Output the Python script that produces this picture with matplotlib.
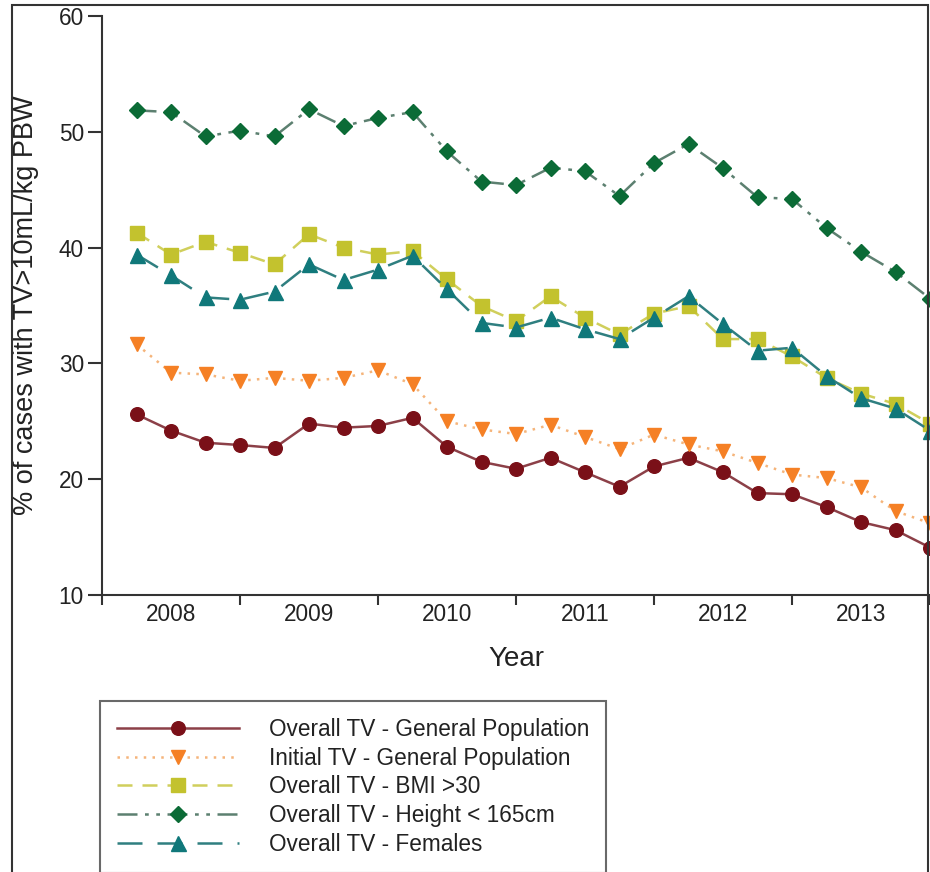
import matplotlib
matplotlib.use("Agg")
import matplotlib.pyplot as plt
from matplotlib.patches import Rectangle

plt.rcParams['font.family'] = ['Liberation Sans', 'DejaVu Sans']

# quarter-end positions, 2008 Q1 .. 2013 Q4
quarter_end = [2008.25, 2008.5, 2008.75, 2009.0,
               2009.25, 2009.5, 2009.75, 2010.0,
               2010.25, 2010.5, 2010.75, 2011.0,
               2011.25, 2011.5, 2011.75, 2012.0,
               2012.25, 2012.5, 2012.75, 2013.0,
               2013.25, 2013.5, 2013.75, 2014.0]
years = [2008, 2009, 2010, 2011, 2012, 2013]

overall_general = [25.6, 24.2, 23.15, 22.95, 22.7, 24.8, 24.45, 24.6,
                   25.3, 22.8, 21.5, 20.9, 21.85, 20.6, 19.35, 21.1,
                   21.85, 20.6, 18.8, 18.7, 17.6, 16.3, 15.6, 14.1]
initial_general = [31.65, 29.2, 29.05, 28.5, 28.75, 28.5, 28.75, 29.4,
                   28.2, 25.0, 24.3, 23.9, 24.7, 23.65, 22.6, 23.85,
                   23.0, 22.4, 21.4, 20.4, 20.1, 19.3, 17.25, 16.2]
overall_bmi = [41.3, 39.4, 40.5, 39.55, 38.55, 41.15, 40.0, 39.4,
               39.7, 37.25, 34.95, 33.65, 35.8, 33.95, 32.5, 34.3,
               34.95, 32.1, 32.1, 30.6, 28.75, 27.4, 26.5, 24.8]
overall_height = [51.85, 51.7, 49.6, 50.1, 49.6, 51.95, 50.5, 51.2,
                  51.7, 48.3, 45.7, 45.4, 46.9, 46.6, 44.45, 47.3,
                  48.95, 46.85, 44.35, 44.2, 41.7, 39.65, 37.9, 35.6]
overall_females = [39.4, 37.6, 35.7, 35.5, 36.2, 38.55, 37.2, 38.1,
                   39.3, 36.4, 33.5, 33.1, 33.95, 32.95, 32.1, 33.95,
                   35.8, 33.4, 31.1, 31.35, 28.9, 27.0, 26.1, 24.2]

series = [
    ("Overall TV - General Population", overall_general, 'o', 9.8,
     '#7a1018', '#8c4048', '-'),
    ("Initial TV - General Population", initial_general, 'v', 10.3,
     '#f58025', '#f5b47a', (0, (1, 2.5))),
    ("Overall TV - BMI >30", overall_bmi, 's', 9.8,
     '#c3c22e', '#d0cf5c', (0, (6, 4))),
    ("Overall TV - Height < 165cm", overall_height, 'D', 8.4,
     '#0b6b36', '#5c8070', (0, (8, 3, 1.5, 3, 1.5, 3))),
    ("Overall TV - Females", overall_females, '^', 10.8,
     '#10787a', '#2f7f80', (0, (10, 6))),
]

fig = plt.figure(figsize=(9.3, 8.72), dpi=100)
ax = fig.add_axes([102 / 930, 1 - 595 / 872, 828 / 930, 579 / 872])

handles = []
for label, values, marker, size, mcolor, lcolor, ls in series:
    line, = ax.plot(quarter_end, values, linestyle=ls, color=lcolor,
                    linewidth=1.8, marker=marker, markersize=size,
                    markerfacecolor=mcolor, markeredgecolor=mcolor,
                    label=label, clip_on=False)
    handles.append(line)

ax.set_xlim(2008, 2014)
ax.set_ylim(10, 60)
ax.set_yticks([10, 20, 30, 40, 50, 60])
ax.set_xticks(range(2008, 2015))
ax.set_xticklabels([])
ax.set_xticks([y + 0.5 for y in years], minor=True)
ax.set_xticklabels([str(y) for y in years], minor=True)
ax.tick_params(axis='x', which='major', direction='out', length=7,
               width=1.5, color='#333333')
ax.tick_params(axis='x', which='minor', length=0, pad=6,
               labelsize=16.3, labelcolor='#222222')
ax.tick_params(axis='y', direction='out', length=10, width=1.5,
               color='#333333', labelsize=16.3, labelcolor='#222222', pad=3)

for side in ('top', 'right'):
    ax.spines[side].set_visible(False)
for side in ('left', 'bottom'):
    ax.spines[side].set_linewidth(1.5)
    ax.spines[side].set_color('#333333')

ax.set_xlabel("Year", fontsize=20, color='#222222', labelpad=14)
ax.set_ylabel("% of cases with TV>10mL/kg PBW", fontsize=19.5,
              color='#222222', labelpad=14)

leg = fig.legend(handles=handles, loc='upper left',
                 bbox_to_anchor=(100 / 930, 1 - 701 / 872),
                 fontsize=16.3, frameon=True, fancybox=False,
                 edgecolor='#444444', handlelength=5.4, handletextpad=1.3,
                 labelspacing=0.25, borderpad=0.75, borderaxespad=0,
                 numpoints=1)
leg.get_frame().set_linewidth(1.5)
for text in leg.get_texts():
    text.set_color('#222222')

# outer frame around the figure
fig.add_artist(Rectangle((12 / 930, -0.1), 916 / 930, 1.1 - 5 / 872,
                         transform=fig.transFigure, fill=False,
                         edgecolor='#333333', linewidth=1.5, zorder=10))

fig.savefig("out.png", dpi=100)
